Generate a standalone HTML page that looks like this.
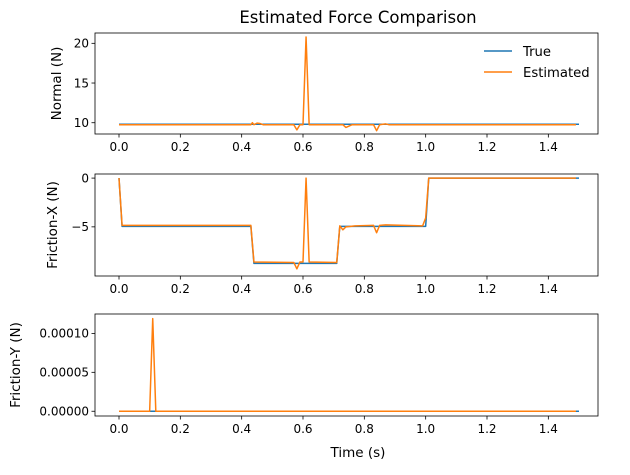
<!DOCTYPE html>
<html><head><meta charset="utf-8"><style>
body{margin:0;background:#fff}
svg{font-family:"DejaVu Sans","Liberation Sans",sans-serif}
</style></head><body>
<svg id="c" width="630" height="470" xmlns="http://www.w3.org/2000/svg">
<rect width="630" height="470" fill="#fff"/>
<text x="358" y="23" font-size="16.5" text-anchor="middle">Estimated Force Comparison</text>
<text x="358" y="457" font-size="13.5" text-anchor="middle">Time (s)</text>
</svg>
<script>
const xTicks=[0,0.2,0.4,0.6,0.8,1.0,1.2,1.4];
const xTickLabels=["0.0","0.2","0.4","0.6","0.8","1.0","1.2","1.4"];
const normalTrueT=[0,1.5];
const normalTrueV=[9.81,9.81];
const normalEstT=[0,0.43,0.435,0.44,0.45,0.46,0.47,0.57,0.58,0.59,0.60,0.61,0.62,0.73,0.74,0.76,0.83,0.84,0.85,0.87,0.88,1.49];
const normalEstV=[9.75,9.75,10.0,9.75,9.95,9.9,9.75,9.75,9.1,9.75,9.75,20.8,9.75,9.75,9.4,9.75,9.75,9.0,9.75,9.85,9.75,9.75];
const fxTrueT=[0,0.01,0.43,0.44,0.71,0.72,1.0,1.01,1.5];
const fxTrueV=[0,-4.95,-4.95,-8.75,-8.75,-4.95,-4.95,0,0];
const fxEstT=[0,0.01,0.43,0.44,0.57,0.58,0.59,0.60,0.61,0.62,0.71,0.72,0.73,0.74,0.77,0.83,0.84,0.85,0.87,0.99,1.0,1.01,1.49];
const fxEstV=[0,-4.85,-4.85,-8.6,-8.65,-9.3,-8.6,-8.6,0,-8.6,-8.65,-4.9,-5.3,-5.0,-4.9,-4.85,-5.6,-4.85,-4.8,-4.9,-4.1,0,0];
const fyTrueT=[0,1.5];
const fyTrueV=[0,0];
const fyEstT=[0,0.1,0.11,0.12,1.49];
const fyEstV=[0,0,0.000119,0,0];
const normalTicks=[10,15,20];
const normalTickLabels=["10","15","20"];
const fxTicks=[0,-5];
const fxTickLabels=["0","−5"];
const fyTicks=[0,0.00005,0.0001];
const fyTickLabels=["0.00000","0.00005","0.00010"];

const svg=document.getElementById('c');
const NS='http://www.w3.org/2000/svg';
function mk(tag,attrs){const e=document.createElementNS(NS,tag);for(const k in attrs)e.setAttribute(k,attrs[k]);svg.appendChild(e);return e;}
const X0=95,X1=598;
function xs(t){return 119+t*(579-119)/1.5;}
function panel(name,top,bot,ymin,ymax,yt,ytl,ylabel,ylx,series){
  const ys=v=>bot-(v-ymin)/(ymax-ymin)*(bot-top);
  for(const s of series){
    const p=mk('polyline',{points:s.t.map((t,i)=>xs(t)+','+ys(s.v[i])).join(' '),fill:'none',stroke:s.c,'stroke-width':1.5,'stroke-linejoin':'round'});
    
    
  }
  const r=mk('rect',{x:X0,y:top,width:X1-X0,height:bot-top,fill:'none',stroke:'#000','stroke-width':0.8});
  
  
  xTicks.forEach((t,i)=>{
    mk('line',{x1:xs(t),x2:xs(t),y1:bot,y2:bot+3.5,stroke:'#000','stroke-width':0.8});
    const tx=mk('text',{x:xs(t),y:bot+17,'font-size':12,'text-anchor':'middle'});
    tx.textContent=xTickLabels[i];
    
    
  });
  yt.forEach((v,i)=>{
    mk('line',{x1:X0-3.5,x2:X0,y1:ys(v),y2:ys(v),stroke:'#000','stroke-width':0.8});
    const tx=mk('text',{x:X0-6,y:ys(v)+4.3,'font-size':12,'text-anchor':'end'});
    tx.textContent=ytl[i];
    
    
  });
  const yc=(top+bot)/2;
  const l=mk('text',{x:ylx,y:yc,'font-size':13.5,'text-anchor':'middle',transform:`rotate(-90 ${ylx} ${yc})`});
  l.textContent=ylabel;
  
  
}
const B='#1f77b4',O='#ff7f0e';
panel('normal',33,134,8.58,21.3,normalTicks,normalTickLabels,'Normal (N)',61,
 [{t:normalTrueT,v:normalTrueV,c:B,n:'true'},{t:normalEstT,v:normalEstV,c:O,n:'estimated'}]);
panel('friction-x',174,276,-10.04,0.42,fxTicks,fxTickLabels,'Friction-X (N)',57,
 [{t:fxTrueT,v:fxTrueV,c:B,n:'true'},{t:fxEstT,v:fxEstV,c:O,n:'estimated'}]);
panel('friction-y',314,416,-0.0000061,0.0001249,fyTicks,fyTickLabels,'Friction-Y (N)',20,
 [{t:fyTrueT,v:fyTrueV,c:B,n:'true'},{t:fyEstT,v:fyEstV,c:O,n:'estimated'}]);
const lg=[['True',B,56],['Estimated',O,77]];
lg.forEach(([txt,c,y])=>{
  const ln=mk('line',{x1:484,x2:512,y1:y-5,y2:y-5,stroke:c,'stroke-width':1.5});
  
  
  const t=mk('text',{x:523,y:y,'font-size':13.2});
  t.textContent=txt;
  
  
});
</script>
</body></html>
